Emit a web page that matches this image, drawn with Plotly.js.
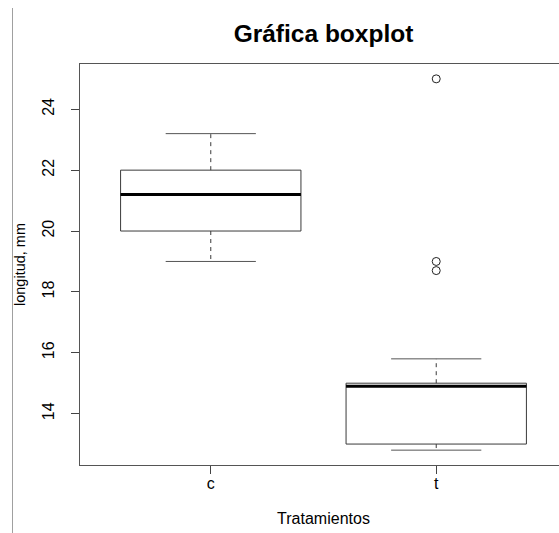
<!DOCTYPE html>
<html>
<head>
<meta charset="utf-8">
<script src="https://cdn.plot.ly/plotly-3.0.1.min.js"></script>
<style>
  html, body { margin: 0; padding: 0; overflow: hidden; background: #fff; }
  #chart { width: 600px; height: 533px; }
  #rule { position: absolute; left: 12px; top: 8px; width: 0; height: 525px;
          border-left: 1px solid #a0a0a0; pointer-events: none; }
</style>
</head>
<body>
<div id="chart"></div>
<div id="rule"></div>
<script>
// Five-number summaries per treatment group
const categories    = ['c', 't'];
const lowerWhisker  = [19.0, 12.8];
const q1            = [20.0, 13.0];
const median        = [21.2, 14.9];
const q3            = [22.0, 15.0];
const upperWhisker  = [23.2, 15.8];

// Points beyond 1.5 * IQR
const outlierGroup  = ['t', 't', 't'];
const outlierValue  = [25.0, 19.0, 18.7];

const BOX_HALF = 0.4;     // boxwex 0.8
const STAPLE_HALF = 0.2;  // staplewex 0.5
const LINE = '#3a3a3a';
const FONT = 'Liberation Sans, Arial, Helvetica, sans-serif';

const traces = [];
categories.forEach((cat, i) => {
  const x = i + 1;
  // box body
  traces.push({
    type: 'scatter', mode: 'lines',
    x: [x - BOX_HALF, x + BOX_HALF, x + BOX_HALF, x - BOX_HALF, x - BOX_HALF],
    y: [q1[i], q1[i], q3[i], q3[i], q1[i]],
    line: { color: LINE, width: 1 }
  });
  // dashed whiskers
  traces.push({
    type: 'scatter', mode: 'lines',
    x: [x, x, null, x, x],
    y: [q3[i], upperWhisker[i], null, q1[i], lowerWhisker[i]],
    line: { color: LINE, width: 1, dash: '4px,4px' }
  });
  // staples
  traces.push({
    type: 'scatter', mode: 'lines',
    x: [x - STAPLE_HALF, x + STAPLE_HALF, null, x - STAPLE_HALF, x + STAPLE_HALF],
    y: [upperWhisker[i], upperWhisker[i], null, lowerWhisker[i], lowerWhisker[i]],
    line: { color: '#555', width: 1 }
  });
  // median
  traces.push({
    type: 'scatter', mode: 'lines',
    x: [x - BOX_HALF, x + BOX_HALF],
    y: [median[i], median[i]],
    line: { color: '#000', width: 3 }
  });
});

// outliers
traces.push({
  type: 'scatter', mode: 'markers',
  x: outlierGroup.map(g => categories.indexOf(g) + 1),
  y: outlierValue,
  marker: { symbol: 'circle-open', size: 8, color: '#222', line: { width: 1 } }
});

// R-style axis padding (4% each side)
const yMin = 12.8, yMax = 25.0, pad = (yMax - yMin) * 0.04;
const xPad = (categories.length) * 0.04;

const layout = {
  width: 600, height: 533,
  margin: { l: 80, r: 33, t: 64, b: 68 },
  paper_bgcolor: '#fff', plot_bgcolor: '#fff',
  showlegend: false,
  font: { family: FONT, color: '#000', size: 16 },
  title: {
    text: 'Gráfica boxplot',
    font: { family: FONT, size: 24.5, weight: 700, color: '#000' },
    xref: 'paper', x: 0.5, xanchor: 'center',
    yref: 'container', y: 1 - 33 / 533, yanchor: 'middle'
  },
  xaxis: {
    range: [0.5 - xPad, categories.length + 0.5 + xPad],
    tickvals: categories.map((c, i) => i + 1),
    ticktext: categories,
    ticks: 'outside', ticklen: 8, tickcolor: '#444', tickwidth: 1,
    showline: true, linecolor: '#555', linewidth: 1, mirror: true,
    showgrid: false, zeroline: false,
    ticklabelstandoff: -4,
    tickfont: { size: 16 },
    title: { text: 'Tratamientos', font: { size: 16 }, standoff: 21 }
  },
  yaxis: {
    range: [yMin - pad, yMax + pad],
    tickvals: [14, 16, 18, 20, 22, 24],
    tickangle: -90,
    ticks: 'outside', ticklen: 8, tickcolor: '#444', tickwidth: 1,
    showline: true, linecolor: '#555', linewidth: 1, mirror: true,
    showgrid: false, zeroline: false,
    ticklabelstandoff: 11,
    tickfont: { size: 16 },
    title: { text: 'longitud, mm', font: { size: 14.5 }, standoff: 10 }
  }
};

Plotly.newPlot('chart', traces, layout, { staticPlot: true, displayModeBar: false });
</script>
</body>
</html>
